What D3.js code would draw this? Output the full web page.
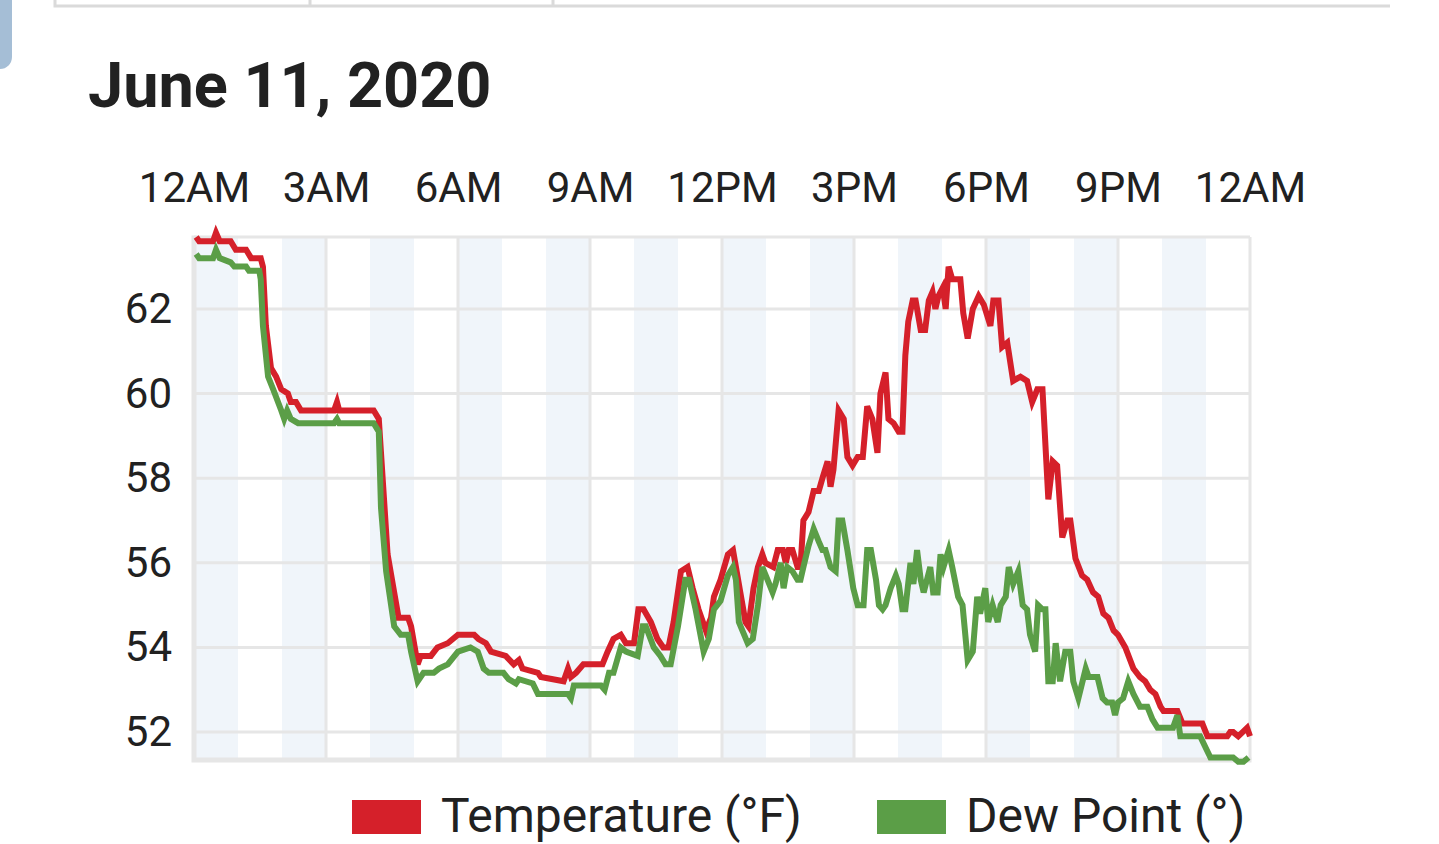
<!DOCTYPE html>
<html>
<head>
<meta charset="utf-8">
<script src="https://cdn.jsdelivr.net/npm/d3@7"></script>
<style>
  body { margin: 0; background: #fff; }
  svg { display: block; font-family: Roboto, "Noto Sans", sans-serif; }
  .tick text { fill: #212121; }
</style>
</head>
<body>
<svg id="chart" width="1439" height="844"></svg>
<script>
// minutes after midnight, degrees F
var temperature = [[3,63.7],[7,63.6],[26,63.6],[30,63.8],[35,63.6],[50,63.6],[57,63.4],[71,63.4],[78,63.2],[91,63.2],[94,63.0],[98,61.6],[105,60.6],[112,60.4],[119,60.1],[128,60.0],[132,59.8],[139,59.8],[146,59.6],[191,59.6],[195,59.8],[198,59.6],[245,59.6],[252,59.4],[258,57.8],[264,56.2],[273,55.3],[279,54.7],[292,54.7],[296,54.5],[305,53.6],[309,53.8],[323,53.8],[332,54.0],[346,54.1],[360,54.3],[382,54.3],[388,54.2],[398,54.1],[405,53.9],[425,53.8],[436,53.6],[443,53.7],[448,53.5],[469,53.4],[473,53.3],[504,53.2],[510,53.5],[514,53.3],[521,53.4],[531,53.6],[557,53.6],[564,53.9],[572,54.2],[582,54.3],[589,54.1],[600,54.1],[606,54.9],[613,54.9],[623,54.6],[632,54.2],[640,54.0],[647,54.0],[654,54.6],[664,55.8],[673,55.9],[680,55.4],[688,54.9],[698,54.4],[705,54.7],[709,55.2],[718,55.6],[728,56.2],[735,56.3],[739,55.9],[745,55.3],[752,54.6],[756,54.5],[763,55.4],[769,55.9],[775,56.2],[779,56.0],[790,55.9],[796,56.3],[803,56.3],[807,56.0],[811,56.3],[816,56.3],[823,55.9],[827,55.9],[831,57.0],[838,57.2],[845,57.7],[852,57.7],[857,58.0],[864,58.4],[868,57.8],[872,58.2],[879,59.6],[886,59.4],[891,58.5],[898,58.3],[905,58.5],[912,58.5],[918,59.7],[925,59.4],[932,58.6],[936,60.0],[943,60.5],[947,59.4],[954,59.3],[961,59.1],[966,59.1],[970,60.9],[974,61.7],[980,62.2],[984,62.2],[991,61.5],[997,61.5],[1002,62.2],[1007,62.4],[1011,62.0],[1015,62.3],[1021,62.5],[1025,62.0],[1029,63.0],[1034,62.7],[1045,62.7],[1049,61.9],[1055,61.3],[1062,62.0],[1070,62.3],[1077,62.1],[1086,61.6],[1090,62.2],[1097,62.2],[1102,61.1],[1109,61.2],[1117,60.3],[1127,60.4],[1136,60.3],[1143,59.8],[1150,60.1],[1157,60.1],[1165,57.5],[1171,58.4],[1177,58.3],[1184,56.6],[1191,57.0],[1195,57.0],[1202,56.1],[1211,55.7],[1218,55.6],[1226,55.3],[1233,55.2],[1240,54.8],[1247,54.7],[1254,54.4],[1260,54.3],[1270,54.0],[1281,53.5],[1290,53.3],[1297,53.2],[1304,53.0],[1311,52.9],[1318,52.6],[1322,52.5],[1341,52.5],[1348,52.2],[1375,52.2],[1382,51.9],[1409,51.9],[1413,52.0],[1417,52.0],[1424,51.9],[1436,52.1],[1440,51.9]];

var dewPoint = [[3,63.3],[7,63.2],[26,63.2],[30,63.4],[35,63.2],[50,63.1],[55,63.0],[71,63.0],[75,62.9],[89,62.9],[91,62.7],[94,61.6],[101,60.4],[108,60.1],[119,59.6],[123,59.4],[127,59.6],[132,59.4],[142,59.3],[191,59.3],[195,59.4],[198,59.3],[245,59.3],[252,59.1],[255,57.3],[262,55.8],[273,54.5],[282,54.3],[292,54.3],[296,53.9],[305,53.2],[313,53.4],[327,53.4],[334,53.5],[346,53.6],[360,53.9],[377,54.0],[387,53.9],[395,53.5],[402,53.4],[422,53.4],[429,53.25],[439,53.15],[443,53.25],[462,53.15],[469,52.9],[510,52.9],[514,52.8],[518,53.1],[531,53.1],[555,53.1],[560,53.0],[566,53.4],[572,53.4],[582,54.0],[589,53.9],[605,53.8],[612,54.5],[616,54.5],[627,54.0],[636,53.8],[643,53.6],[650,53.6],[660,54.5],[670,55.6],[675,55.6],[684,54.9],[695,53.9],[702,54.2],[709,54.9],[718,55.1],[728,55.7],[735,55.9],[739,55.6],[743,54.6],[755,54.1],[762,54.2],[769,55.0],[775,55.9],[782,55.6],[789,55.3],[793,55.5],[800,56.0],[804,55.4],[809,55.9],[816,55.8],[823,55.6],[827,55.6],[831,55.9],[838,56.4],[845,56.8],[852,56.5],[857,56.3],[861,56.3],[868,55.9],[875,55.8],[879,57.0],[884,57.0],[891,56.3],[899,55.4],[905,55.0],[913,55.0],[918,56.3],[923,56.3],[930,55.6],[934,55.0],[939,54.9],[943,55.0],[950,55.4],[957,55.7],[961,55.5],[966,54.9],[970,54.9],[977,56.0],[981,55.5],[986,56.3],[991,55.6],[995,55.3],[1004,55.9],[1008,55.3],[1014,55.3],[1018,56.2],[1022,55.9],[1029,56.3],[1034,55.9],[1042,55.2],[1048,55.0],[1055,53.7],[1062,53.9],[1068,55.2],[1072,54.8],[1079,55.4],[1083,54.6],[1089,55.0],[1096,54.6],[1100,55.0],[1107,55.2],[1111,55.9],[1117,55.5],[1124,55.8],[1130,55.0],[1136,54.9],[1140,54.3],[1147,53.9],[1151,55.0],[1157,54.9],[1161,54.9],[1165,53.2],[1171,53.2],[1175,54.1],[1181,53.2],[1188,53.9],[1195,53.9],[1199,53.2],[1206,52.8],[1216,53.5],[1220,53.3],[1232,53.3],[1239,52.8],[1245,52.7],[1252,52.7],[1256,52.4],[1260,52.7],[1267,52.8],[1274,53.2],[1281,52.9],[1290,52.6],[1300,52.6],[1307,52.3],[1314,52.1],[1335,52.1],[1341,52.4],[1345,51.9],[1372,51.9],[1386,51.4],[1417,51.4],[1424,51.3],[1431,51.3],[1438,51.4]];

var timeTicks = [0, 180, 360, 540, 720, 900, 1080, 1260, 1440];
var timeLabels = ['12AM', '3AM', '6AM', '9AM', '12PM', '3PM', '6PM', '9PM', '12AM'];
var valueTicks = [52, 54, 56, 58, 60, 62];
var seriesNames = ['Temperature (°F)', 'Dew Point (°)'];
var seriesColors = ['#d5202a', '#5b9e47'];

var svg = d3.select('#chart');

var plot = {l: 194, r: 1250, t: 237, b: 760};
var GRID = '#e6e6e6';

var x = d3.scaleLinear().domain([0, 1440]).range([plot.l, plot.r]);
var y = d3.scaleLinear().domain([51.34, 63.7]).range([plot.b, plot.t]);

// top tab strip and side handle
svg.append('rect')
    .attr('x', -20).attr('y', -20)
    .attr('width', 32).attr('height', 89)
    .attr('rx', 12)
    .attr('fill', '#a5bed6');

svg.append('path')
    .attr('d', 'M55,0V6H1390M310,0V6M553,0V6')
    .attr('fill', 'none')
    .attr('stroke', '#dadada')
    .attr('stroke-width', 3);

svg.append('text')
    .attr('x', 88).attr('y', 107)
    .attr('font-size', 63)
    .attr('font-weight', 700)
    .attr('fill', '#212121')
    .text('June 11, 2020');

// alternate hour shading
var hours = d3.range(0, 24, 2);
svg.append('g').selectAll('rect')
    .data(hours)
    .enter().append('rect')
    .attr('x', function(h) { return x(h * 60); })
    .attr('y', plot.t)
    .attr('width', function(h) { return x((h + 1) * 60) - x(h * 60); })
    .attr('height', plot.b - plot.t)
    .attr('fill', '#f0f5fa');

// grid
var grid = svg.append('g').attr('stroke', GRID).attr('stroke-width', 3);
grid.selectAll('.vgrid').data(timeTicks)
    .enter().append('line')
    .attr('class', 'vgrid')
    .attr('x1', function(d) { return x(d); })
    .attr('x2', function(d) { return x(d); })
    .attr('y1', plot.t).attr('y2', plot.b);
grid.selectAll('.hgrid').data(valueTicks)
    .enter().append('line')
    .attr('class', 'hgrid')
    .attr('x1', plot.l).attr('x2', plot.r)
    .attr('y1', function(d) { return y(d); })
    .attr('y2', function(d) { return y(d); });
grid.append('line')
    .attr('x1', plot.l).attr('x2', plot.r)
    .attr('y1', plot.t).attr('y2', plot.t);

// heavier left / bottom frame
svg.append('path')
    .attr('d', 'M' + plot.l + ',' + (plot.t - 1.5) + 'V' + plot.b + 'H' + (plot.r + 1.5))
    .attr('fill', 'none')
    .attr('stroke', '#e6e6e6')
    .attr('stroke-width', 5);

// axes
var xAxis = d3.axisTop(x)
    .tickValues(timeTicks)
    .tickSize(0)
    .tickPadding(0)
    .tickFormat(function(d, i) { return timeLabels[i]; });

svg.append('g')
    .attr('transform', 'translate(0,202)')
    .call(xAxis)
    .call(function(g) { g.select('.domain').remove(); })
    .selectAll('text')
    .attr('font-size', 42)
    .attr('font-family', 'Roboto, sans-serif');

var yAxis = d3.axisLeft(y)
    .tickValues(valueTicks)
    .tickSize(0)
    .tickPadding(0);

svg.append('g')
    .attr('transform', 'translate(172,0)')
    .call(yAxis)
    .call(function(g) { g.select('.domain').remove(); })
    .selectAll('text')
    .attr('font-size', 42)
    .attr('font-family', 'Roboto, sans-serif');

// lines
var line = d3.line()
    .x(function(d) { return x(d[0]); })
    .y(function(d) { return y(d[1]); });

svg.selectAll('.series')
    .data([temperature, dewPoint])
    .enter().append('path')
    .attr('class', 'series')
    .attr('d', line)
    .attr('fill', 'none')
    .attr('stroke', function(d, i) { return seriesColors[i]; })
    .attr('stroke-width', 6)
    .attr('stroke-linejoin', 'miter');

// legend
var legendX = [352, 877];
var legend = svg.append('g').selectAll('g')
    .data(seriesNames)
    .enter().append('g')
    .attr('transform', function(d, i) { return 'translate(' + [legendX[i], 800] + ')'; });

legend.append('rect')
    .attr('width', 69).attr('height', 34)
    .attr('fill', function(d, i) { return seriesColors[i]; });

legend.append('text')
    .attr('x', 89).attr('y', 32)
    .attr('font-size', 48)
    .attr('fill', '#212121')
    .text(function(d) { return d; });
</script>
</body>
</html>
